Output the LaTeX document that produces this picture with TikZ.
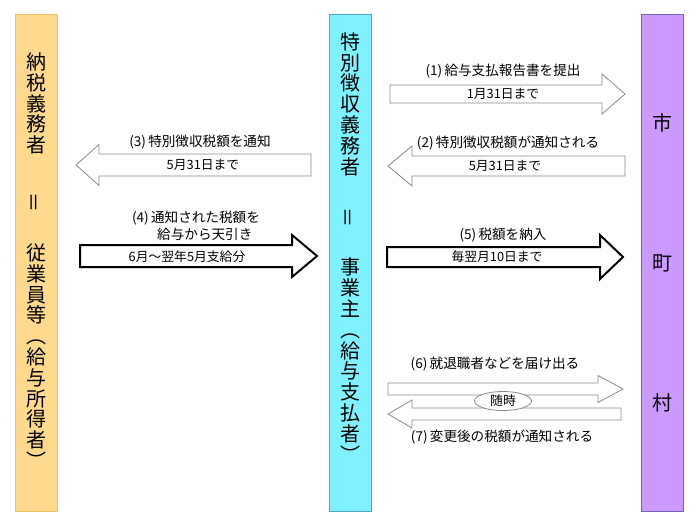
\documentclass[tikz,border=0pt]{standalone}
\usepackage{fontspec}
\setmainfont{Noto Sans CJK JP}
\usetikzlibrary{shapes.geometric}

\definecolor{payerfill}{HTML}{FFD98E}
\definecolor{payerline}{HTML}{EFC265}
\definecolor{employerfill}{HTML}{80F2FF}
\definecolor{employerline}{HTML}{4FA6C8}
\definecolor{cityfill}{HTML}{CC99FF}
\definecolor{cityline}{HTML}{7262B8}
\definecolor{arrowgray}{HTML}{8A8A8A}

\tikzset{
  column/.style={draw, line width=0.8pt, inner sep=0pt, minimum width=42pt, minimum height=497pt},
  coltext/.style={align=center, inner sep=0pt, font=\fontsize{20}{20.8}\selectfont},
  steptext/.style={inner sep=0pt, align=center, font=\fontsize{13.6}{17}\selectfont},
  datetext/.style={inner sep=0pt, font=\fontsize{12.8}{14}\selectfont},
  thinblock/.style={draw=arrowgray, fill=white, line width=0.8pt},
  thickblock/.style={draw=black, fill=white, line width=2pt, line join=miter},
}

% block arrow pointing right: style, tail x, tip x, mid y, shaft half, head half, head length
\newcommand{\rightblock}[7]{%
  \draw[#1] ({#2},{#4-#5}) -- ({#3-#7},{#4-#5}) -- ({#3-#7},{#4-#6}) -- ({#3},{#4})
    -- ({#3-#7},{#4+#6}) -- ({#3-#7},{#4+#5}) -- ({#2},{#4+#5}) -- cycle;}
% block arrow pointing left: style, tip x, tail x, mid y, shaft half, head half, head length
\newcommand{\leftblock}[7]{%
  \draw[#1] ({#3},{#4-#5}) -- ({#2+#7},{#4-#5}) -- ({#2+#7},{#4-#6}) -- ({#2},{#4})
    -- ({#2+#7},{#4+#6}) -- ({#2+#7},{#4+#5}) -- ({#3},{#4+#5}) -- cycle;}

\begin{document}
\begin{tikzpicture}[x=1pt, y=-1pt]
  \useasboundingbox (0,0) rectangle (700,525);

  \node[column, draw=payerline, fill=payerfill] (payer) at (36.5,262.5) {};
  \node[column, draw=employerline, fill=employerfill] (employer) at (350.5,262.5) {};
  \node[column, draw=cityline, fill=cityfill] (city) at (662,262.5) {};

  \node[coltext] (payerTop) at (36.5,103.5) {納\\税\\義\\務\\者};
  \node[coltext] (payerEq) at (36.5,202) {\rotatebox{90}{＝}};
  \node[coltext] (payerBottom) at (36.5,356) {従\\業\\員\\等\\︵\\給\\与\\所\\得\\者\\︶};

  \node[coltext] (employerTop) at (350.5,104) {特\\別\\徴\\収\\義\\務\\者};
  \node[coltext] (employerEq) at (350.5,217) {\rotatebox{90}{＝}};
  \node[coltext] (employerBottom) at (350.5,360) {事\\業\\主\\︵\\給\\与\\支\\払\\者\\︶};

  \node[coltext] (cityA) at (662,123) {市};
  \node[coltext] (cityB) at (662,263) {町};
  \node[coltext] (cityC) at (662,403) {村};

  \rightblock{thinblock}{390}{625}{94}{9}{20}{23}
  \leftblock{thinblock}{388}{625}{166}{10}{20}{24}
  \leftblock{thinblock}{76}{311}{165}{11}{20.5}{23}
  \rightblock{thickblock}{80}{317}{256}{11}{21}{25}
  \rightblock{thickblock}{387}{623}{257}{10}{22}{23}
  \rightblock{thinblock}{388}{623}{389}{6}{13.5}{25}
  \leftblock{thinblock}{388}{621}{414}{6}{14}{24}

  \node[steptext] (step1) at (503,71) {(1)\,給与支払報告書を提出};
  \node[datetext] (date1) at (503,94) {1月31日まで};
  \node[steptext] (step2) at (508,143) {(2)\,特別徴収税額が通知される};
  \node[datetext] (date2) at (505,166) {5月31日まで};
  \node[steptext] (step3) at (200,142) {(3)\,特別徴収税額を通知};
  \node[datetext] (date3) at (203,165) {5月31日まで};
  \node[steptext] (step4) at (196,226) {(4)\,通知された税額を\\\hspace*{1.3em}給与から天引き};
  \node[datetext] (date4) at (187,257) {6月〜翌年5月支給分};
  \node[steptext] (step5) at (503,235) {(5)\,税額を納入};
  \node[datetext] (date5) at (497,257) {毎翌月10日まで};
  \node[steptext] (step6) at (495,364) {(6)\,就退職者などを届け出る};
  \node[steptext] (step7) at (502,437) {(7)\,変更後の税額が通知される};
  \node[ellipse, draw=arrowgray, fill=white, line width=0.8pt, inner sep=0pt,
        minimum width=57pt, minimum height=19pt, datetext] (anytime) at (503,401) {随時};
\end{tikzpicture}
\end{document}
